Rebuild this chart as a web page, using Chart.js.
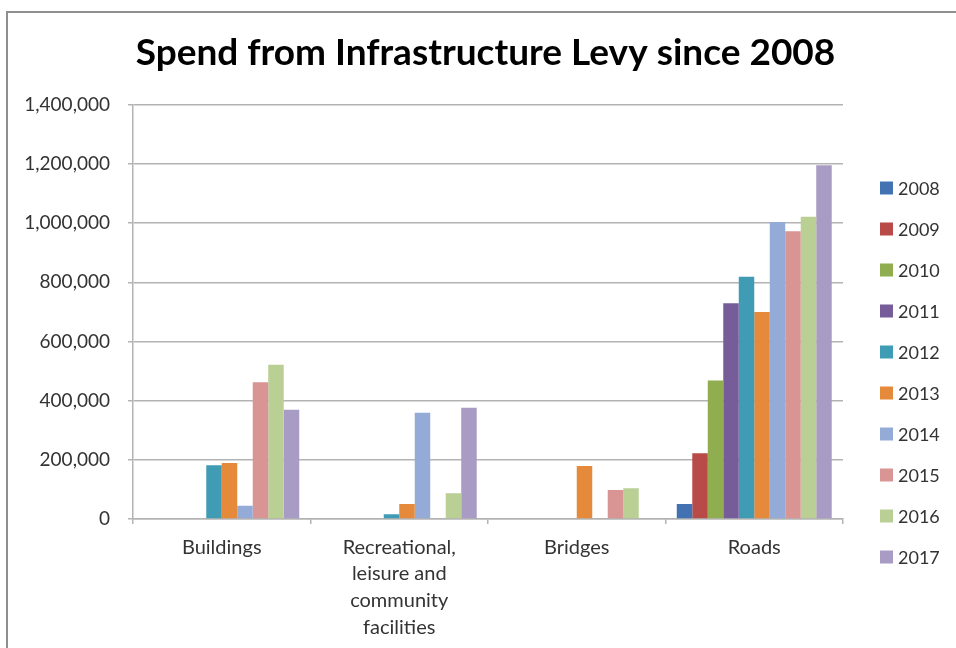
<!DOCTYPE html>
<html>
<head>
<meta charset="utf-8">
<title>Spend from Infrastructure Levy since 2008</title>
<script src="https://cdn.jsdelivr.net/npm/chart.js@4.4.1/dist/chart.umd.min.js"></script>
<style>
  html, body { margin: 0; padding: 0; background: #fff; overflow: hidden; }
  body { width: 956px; height: 648px; position: relative; }
  .frame {
    position: absolute; left: 6px; top: 11px; width: 1000px; height: 1000px;
    border: 2px solid #8f8f8f; box-sizing: border-box;
  }
  #levyChart { position: absolute; left: 0; top: 0; }
</style>
</head>
<body>
<div class="frame"></div>
<canvas id="levyChart" width="956" height="648"></canvas>
<script>
// Categories along the x axis (multi-line labels as arrays)
const CATEGORIES = [
  "Buildings",
  ["Recreational,", "leisure and", "community", "facilities"],
  "Bridges",
  "Roads",
];

// One series per year, values for [Buildings, Recreational, Bridges, Roads]
const YEARS = ["2008", "2009", "2010", "2011", "2012", "2013", "2014", "2015", "2016", "2017"];
const SPEND_2008 = [0, 0, 0, 51000];
const SPEND_2009 = [0, 0, 0, 222000];
const SPEND_2010 = [0, 0, 0, 468000];
const SPEND_2011 = [0, 0, 0, 729000];
const SPEND_2012 = [182000, 16000, 0, 819000];
const SPEND_2013 = [189000, 51000, 179000, 700000];
const SPEND_2014 = [45000, 359000, 0, 1004000];
const SPEND_2015 = [462000, 0, 98000, 973000];
const SPEND_2016 = [521000, 87000, 104000, 1022000];
const SPEND_2017 = [369000, 376000, 0, 1196000];

const SERIES = [
  SPEND_2008, SPEND_2009, SPEND_2010, SPEND_2011, SPEND_2012,
  SPEND_2013, SPEND_2014, SPEND_2015, SPEND_2016, SPEND_2017,
];

// Y axis range / tick step
const Y_MIN = 0;
const Y_MAX = 1400000;
const Y_STEP = 200000;

// Office 2007 style palette, as seen in the picture
const YEAR_COLORS = [
  "#4372B3",
  "#B84B48",
  "#90AE50",
  "#775C9A",
  "#409CB4",
  "#E5893B",
  "#93ABD6",
  "#D89593",
  "#BACF94",
  "#A89BC4",
];

const TEXT_COLOR = "#333333";
const GRID_COLOR = "#b3b3b3";

// Legend drawn at the right of the plot, one row per year
const sideLegend = {
  id: "sideLegend",
  afterDraw(chart) {
    const ctx = chart.ctx;
    const x = chart.chartArea.right + 37;
    ctx.save();
    ctx.font = "18px Lato";
    ctx.textBaseline = "middle";
    ctx.textAlign = "left";
    chart.data.datasets.forEach((ds, i) => {
      const y = 188 + i * 41;
      ctx.fillStyle = ds.backgroundColor;
      ctx.fillRect(x, y - 6.5, 13, 13);
      ctx.fillStyle = TEXT_COLOR;
      ctx.fillText(ds.label, x + 18, y + 1);
    });
    ctx.restore();
  },
};

// Title is centred on the whole frame, not on the plot + legend gap
const wideTitle = {
  id: "wideTitle",
  afterLayout(chart) {
    const t = chart.titleBlock;
    if (!t) return;
    t.left = 15;
    t.right = chart.width;
    t.width = t.right - t.left;
  },
};

const datasets = YEARS.map((year, i) => ({
  label: year,
  data: SERIES[i],
  backgroundColor: YEAR_COLORS[i],
  borderWidth: 0,
  categoryPercentage: 0.873,
  barPercentage: 1.0,
}));

new Chart(document.getElementById("levyChart"), {
  type: "bar",
  data: { labels: CATEGORIES, datasets },
  options: {
    responsive: false,
    animation: false,
    devicePixelRatio: 1,
    layout: { padding: { left: 0, right: 113, top: 0, bottom: 0 } },
    plugins: {
      legend: { display: false },
      tooltip: { enabled: false },
      title: {
        display: true,
        text: "Spend from Infrastructure Levy since 2008",
        color: "#000",
        font: { family: "Lato", size: 37, weight: "bold" },
        padding: { top: 31, bottom: 29.4 },
      },
    },
    scales: {
      x: {
        grid: {
          display: true,
          offset: true,
          drawOnChartArea: false,
          drawTicks: true,
          tickLength: 5,
          color: GRID_COLOR,
          lineWidth: 1.5,
        },
        border: { display: true, color: GRID_COLOR, width: 1.5 },
        ticks: {
          color: TEXT_COLOR,
          font: { family: "Lato", size: 20, lineHeight: 1.33 },
          padding: 10,
          maxRotation: 0,
          autoSkip: false,
        },
        afterFit(scale) {
          scale.height = 129;
        },
      },
      y: {
        min: Y_MIN,
        max: Y_MAX,
        grid: {
          color: GRID_COLOR,
          lineWidth: 1.5,
          drawTicks: true,
          tickLength: 5,
        },
        border: { display: true, color: GRID_COLOR, width: 1.5 },
        ticks: {
          stepSize: Y_STEP,
          color: TEXT_COLOR,
          font: { family: "Lato", size: 19 },
          padding: 18,
          callback: (v) => v.toLocaleString("en-US"),
        },
        afterFit(scale) {
          scale.width = 133;
        },
      },
    },
  },
  plugins: [sideLegend, wideTitle],
});
</script>
</body>
</html>
